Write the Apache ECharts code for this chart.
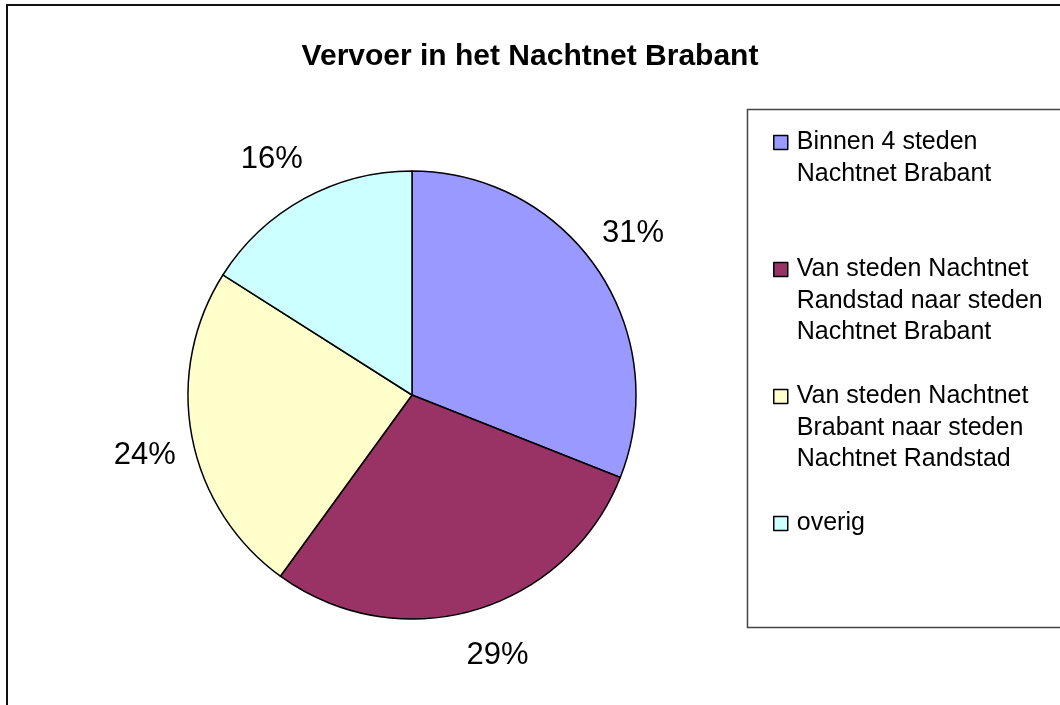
<!DOCTYPE html>
<html>
<head>
<meta charset="utf-8">
<title>Vervoer in het Nachtnet Brabant</title>
<script src="https://cdn.jsdelivr.net/npm/echarts/dist/echarts.min.js"></script>
<style>
  html, body { margin: 0; padding: 0; background: #fff; }
  #main { width: 1060px; height: 705px; }
</style>
</head>
<body>
<div id="main"></div>
<script>
// categorieen zoals in de legenda (met regelafbreking)
var categories = [
  'Binnen 4 steden\nNachtnet Brabant',
  'Van steden Nachtnet\nRandstad naar steden\nNachtnet Brabant',
  'Van steden Nachtnet\nBrabant naar steden\nNachtnet Randstad',
  'overig'
];
// aandeel in procenten
var shares = [31, 29, 24, 16];
var sliceColors = ['#9999FF', '#993366', '#FFFFCC', '#CCFFFF'];

var font = 'Liberation Sans, Arial, Helvetica, sans-serif';
var lineH = 31.5;   // regelhoogte legenda
var boxLines = 5;   // elke legenda-regel even hoog maken

var pieData = [];
for (var i = 0; i < categories.length; i++) {
  pieData.push({ name: categories[i], value: shares[i] });
}

// lege regels erbij zodat het vierkantje bij de eerste regel staat
function legendText(name) {
  var n = name.split('\n').length;
  var before = (boxLines - 1) / 2;
  var after = boxLines - before - n;
  var s = '';
  for (var k = 0; k < before; k++) s += '\n';
  s += name;
  for (var k = 0; k < after; k++) s += '\n';
  return s;
}

var myChart = echarts.init(document.getElementById('main'));
myChart.setOption({
  animation: false,
  color: sliceColors,
  title: {
    text: 'Vervoer in het Nachtnet Brabant',
    left: 'center',
    top: 37,
    textStyle: { fontFamily: font, fontWeight: 'bold', fontSize: 30, color: '#000' }
  },
  graphic: [
    { type: 'rect', shape: { x: 7, y: 5, width: 1100, height: 800 },
      style: { fill: 'none', stroke: '#111', lineWidth: 2 } },
    { type: 'rect', shape: { x: 747.5, y: 109.5, width: 400, height: 518 },
      style: { fill: 'none', stroke: '#444', lineWidth: 1.5 } }
  ],
  legend: {
    orient: 'vertical',
    left: 773,
    top: 142.5 - boxLines * lineH / 2,
    padding: 0,
    itemGap: 127 - boxLines * lineH,
    itemWidth: 14,
    itemHeight: 14,
    icon: 'rect',
    selectedMode: false,
    itemStyle: { borderColor: '#000', borderWidth: 1.5 },
    formatter: legendText,
    textStyle: { fontFamily: font, fontSize: 25, lineHeight: lineH, color: '#000', padding: [0, 0, 0, 4] },
    data: categories
  },
  series: [
    {
      name: 'Vervoer',
      type: 'pie',
      center: [412, 395],
      radius: 224,
      startAngle: 90,
      clockwise: true,
      silent: true,
      label: { show: false },
      labelLine: { show: false },
      itemStyle: { borderColor: '#000', borderWidth: 1.5 },
      data: pieData
    },
    {
      // onzichtbare ring om de percentages buiten de taart te zetten
      name: 'labels',
      type: 'pie',
      center: [412, 395],
      radius: [250, 292],
      startAngle: 92,
      clockwise: true,
      silent: true,
      itemStyle: { color: 'rgba(0,0,0,0)', borderWidth: 0 },
      label: {
        show: true,
        position: 'inside',
        fontFamily: font,
        fontSize: 31,
        color: '#000',
        textBorderWidth: 0,
        formatter: function (p) { return Math.round(p.percent) + '%'; }
      },
      labelLine: { show: false },
      data: pieData
    }
  ]
});
</script>
</body>
</html>
